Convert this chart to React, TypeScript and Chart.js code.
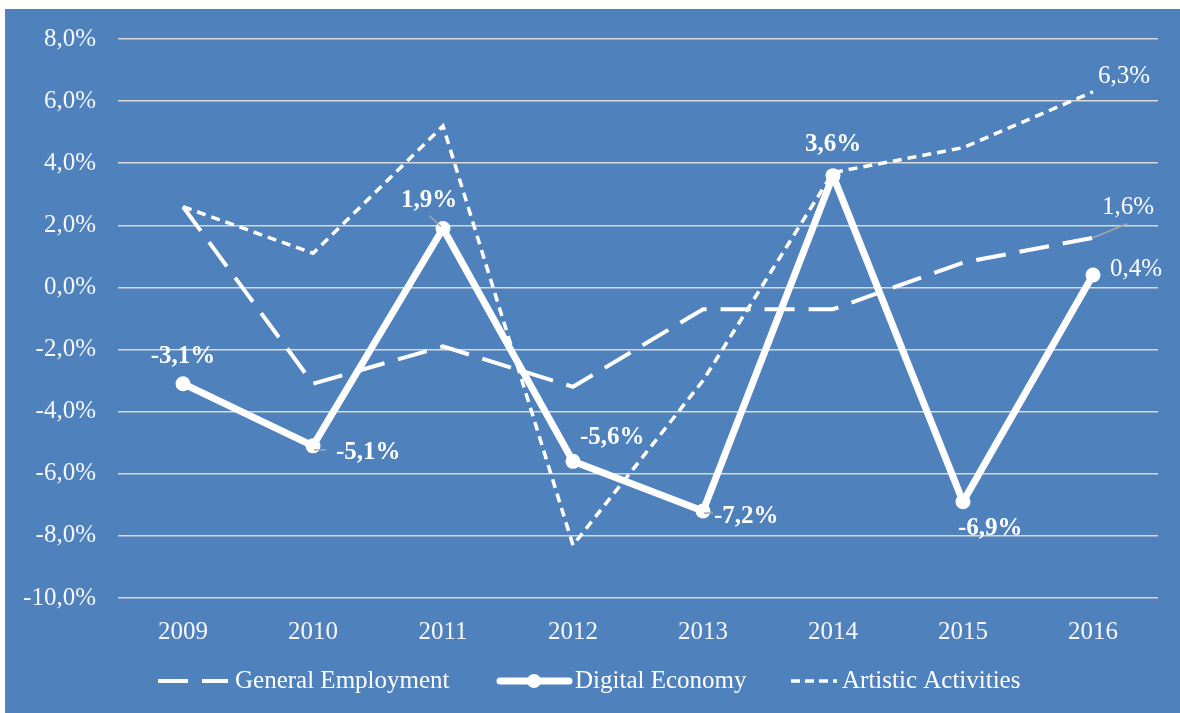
import React, { useEffect, useRef } from 'react';
import { Chart, registerables } from 'chart.js';

Chart.register(...registerables);

const years = ['2009', '2010', '2011', '2012', '2013', '2014', '2015', '2016'];
const generalEmployment = [2.6, -3.1, -1.9, -3.2, -0.7, -0.7, 0.8, 1.6];
const digitalEconomy = [-3.1, -5.1, 1.9, -5.6, -7.2, 3.6, -6.9, 0.4];
const artisticActivities = [2.6, 1.1, 5.2, -8.3, -3.0, 3.7, 4.5, 6.3];
const seriesNames = ['General Employment', 'Digital Economy', 'Artistic Activities'];
const yMin = -10;
const yMax = 8;
const yStep = 2;

const FONT = '"Liberation Serif", "Times New Roman", serif';
const BLUE = '#4F81BD';

const fmt = (v: number) => v.toFixed(1).replace('.', ',') + '%';

type LabelSpec = {
  ds: number;
  i: number;
  dx: number;
  dy: number;
  align: CanvasTextAlign;
  bold: boolean;
  leader?: [number, number, number, number];
};

const labelSpecs: LabelSpec[] = [
  { ds: 1, i: 0, dx: 0, dy: -27, align: 'center', bold: true },
  { ds: 1, i: 1, dx: 23, dy: 7, align: 'left', bold: true, leader: [1, 4, 13, 4] },
  { ds: 1, i: 2, dx: -14, dy: -28, align: 'center', bold: true, leader: [-14, -13, -2, -2] },
  { ds: 1, i: 3, dx: 7, dy: -24, align: 'left', bold: true },
  { ds: 1, i: 4, dx: 11, dy: 6, align: 'left', bold: true, leader: [1, 2, 10, 2] },
  { ds: 1, i: 5, dx: 0, dy: -31, align: 'center', bold: true },
  { ds: 1, i: 6, dx: -5, dy: 27, align: 'left', bold: true },
  { ds: 1, i: 7, dx: 17, dy: -6, align: 'left', bold: false },
  { ds: 0, i: 7, dx: 9, dy: -30, align: 'left', bold: false, leader: [0, 0, 34, -14] },
  { ds: 2, i: 7, dx: 5, dy: -15, align: 'left', bold: false },
];

const labelPlugin = {
  id: 'pointLabels',
  afterDatasetsDraw(chart: any) {
    const ctx = chart.ctx as CanvasRenderingContext2D;
    ctx.save();
    for (const s of labelSpecs) {
      const meta = chart.getDatasetMeta(s.ds);
      const el = meta.data[s.i];
      if (!el) continue;
      const x = el.x;
      const y = el.y;
      if (s.leader) {
        ctx.strokeStyle = '#A6A6A6';
        ctx.lineWidth = 1.5;
        ctx.setLineDash([]);
        ctx.beginPath();
        ctx.moveTo(x + s.leader[0], y + s.leader[1]);
        ctx.lineTo(x + s.leader[2], y + s.leader[3]);
        ctx.stroke();
      }
      const v = chart.data.datasets[s.ds].data[s.i];
      ctx.font = (s.bold ? 'bold ' : '') + '25px ' + FONT;
      ctx.fillStyle = '#FFFFFF';
      ctx.textAlign = s.align;
      ctx.textBaseline = 'middle';
      ctx.fillText(fmt(v), x + s.dx, y + s.dy);
    }
    ctx.restore();
  },
};

const legendPlugin = {
  id: 'customLegend',
  afterDraw(chart: any) {
    const ctx = chart.ctx as CanvasRenderingContext2D;
    const y = 672;
    ctx.save();
    ctx.strokeStyle = '#FFFFFF';
    ctx.fillStyle = '#FFFFFF';
    ctx.lineCap = 'butt';
    // General Employment sample
    ctx.lineWidth = 4;
    ctx.setLineDash([30, 14]);
    ctx.beginPath();
    ctx.moveTo(153, y);
    ctx.lineTo(223, y);
    ctx.stroke();
    // Digital Economy sample
    ctx.setLineDash([]);
    ctx.lineWidth = 7;
    ctx.lineCap = 'round';
    ctx.beginPath();
    ctx.moveTo(495, y);
    ctx.lineTo(564, y);
    ctx.stroke();
    ctx.beginPath();
    ctx.arc(529, y, 7, 0, Math.PI * 2);
    ctx.fill();
    // Artistic Activities sample
    ctx.lineCap = 'butt';
    ctx.lineWidth = 3.5;
    ctx.setLineDash([9, 5]);
    ctx.beginPath();
    ctx.moveTo(786, y);
    ctx.lineTo(832, y);
    ctx.stroke();
    ctx.setLineDash([]);
    ctx.font = '25px ' + FONT;
    ctx.textAlign = 'left';
    ctx.textBaseline = 'middle';
    ctx.fillText(seriesNames[0], 230, y);
    ctx.fillText(seriesNames[1], 570, y);
    ctx.fillText(seriesNames[2], 837, y);
    ctx.restore();
  },
};

export default function App() {
  const canvasRef = useRef<HTMLCanvasElement | null>(null);

  useEffect(() => {
    if (!canvasRef.current) return;
    const chart = new Chart(canvasRef.current, {
      type: 'line',
      data: {
        labels: years,
        datasets: [
          {
            label: seriesNames[0],
            data: generalEmployment,
            borderColor: '#FFFFFF',
            borderWidth: 4,
            borderDash: [30, 14],
            pointRadius: 0,
            fill: false,
            tension: 0,
          },
          {
            label: seriesNames[1],
            data: digitalEconomy,
            borderColor: '#FFFFFF',
            backgroundColor: '#FFFFFF',
            borderWidth: 7,
            borderJoinStyle: 'round',
            borderCapStyle: 'round',
            pointRadius: 7.5,
            pointBackgroundColor: '#FFFFFF',
            pointBorderColor: '#FFFFFF',
            pointBorderWidth: 0,
            fill: false,
            tension: 0,
          },
          {
            label: seriesNames[2],
            data: artisticActivities,
            borderColor: '#FFFFFF',
            borderWidth: 3.5,
            borderDash: [9, 6],
            pointRadius: 0,
            fill: false,
            tension: 0,
          },
        ],
      },
      options: {
        responsive: false,
        animation: false,
        devicePixelRatio: 1,
        layout: { padding: { top: 30, right: 22, bottom: 55, left: 0 } },
        plugins: {
          legend: { display: false },
          tooltip: { enabled: false },
        },
        scales: {
          x: {
            offset: true,
            grid: { display: false, drawTicks: false },
            border: { display: false },
            ticks: {
              color: '#F7F7F7',
              font: { family: FONT, size: 25 },
              padding: 19,
              maxRotation: 0,
            },
            afterFit: (scale: any) => {
              scale.height = 60;
              scale.paddingLeft = 0;
              scale.paddingRight = 0;
            },
          },
          y: {
            min: yMin,
            max: yMax,
            grid: { color: '#D9D9D9', lineWidth: 1.5, drawTicks: false },
            border: { display: false },
            ticks: {
              stepSize: yStep,
              color: '#F7F7F7',
              font: { family: FONT, size: 25 },
              padding: 22,
              callback: (v: any) => fmt(Number(v)),
            },
            afterFit: (scale: any) => {
              scale.width = 113;
              scale.paddingTop = 0;
              scale.paddingBottom = 0;
            },
          },
        },
      },
      plugins: [labelPlugin, legendPlugin],
    });
    return () => chart.destroy();
  }, []);

  return (
    <div
      style={{
        position: 'absolute',
        left: 5,
        top: 9,
        width: 1175,
        height: 704,
        background: BLUE,
        overflow: 'hidden',
      }}
    >
      <canvas ref={canvasRef} width={1175} height={704} style={{ display: 'block' }} />
    </div>
  );
}
